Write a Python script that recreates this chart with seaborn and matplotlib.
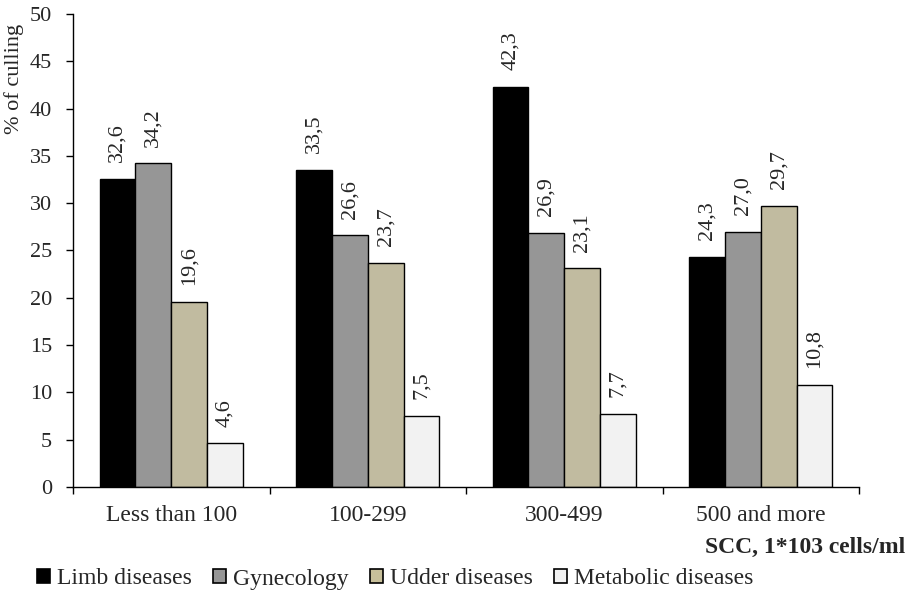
import numpy as np
import pandas as pd
import matplotlib.pyplot as plt
import seaborn as sns

sns.set_style("ticks")
plt.rcParams['font.family'] = ['Liberation Serif', 'DejaVu Serif']

categories = ['Less than 100', '100-299', '300-499', '500 and more']
series = ['Limb diseases', 'Gynecology', 'Udder diseases', 'Metabolic diseases']
limb = [32.6, 33.5, 42.3, 24.3]
gyne = [34.2, 26.6, 26.9, 27.0]
udder = [19.6, 23.7, 23.1, 29.7]
metab = [4.6, 7.5, 7.7, 10.8]
colors = ['#000000', '#969696', '#c7bf9a', '#f2f2f2']

values = [limb, gyne, udder, metab]
df = pd.DataFrame({
    'group': np.repeat([categories], len(series), axis=0).ravel(),
    'disease': np.repeat(series, len(categories)),
    'pct': np.concatenate(values),
})

fig = plt.figure(figsize=(9.07, 5.9), dpi=100)
# axes box in pixels: x 73..859, y 14..487
ax = fig.add_axes([73 / 907, 1 - 487 / 590, 786 / 907, 473 / 590])

sns.barplot(data=df, x='group', y='pct', hue='disease', order=categories,
            hue_order=series, palette=colors, width=0.73, gap=0,
            edgecolor='black', linewidth=1.0, legend=False, ax=ax)

for cont, vals in zip(ax.containers, values):
    ax.bar_label(cont, labels=[f"{v:.1f}".replace('.', ',') for v in vals],
                 rotation=90, padding=12, fontsize=16)

ax.set_ylim(0, 50)
ax.set_yticks(range(0, 51, 5))
ax.set_xlim(-0.5, 3.5)
ax.tick_params(axis='y', labelsize=16, length=5, width=1, color='black', pad=10)
ax.tick_params(axis='x', which='major', labelsize=17, length=0, pad=13)
ax.set_xticks(np.arange(-0.5, 4.0, 1.0), minor=True)
ax.tick_params(axis='x', which='minor', length=5, width=1, color='black')
sns.despine(ax=ax)
for s in ['left', 'bottom']:
    ax.spines[s].set_color('black')
    ax.spines[s].set_linewidth(1)

ax.set_xlabel('')
ax.set_ylabel('% of culling', fontsize=16)
ax.yaxis.set_label_coords(-0.062, 0.862)

fig.text(905 / 907, 1 - 547 / 590, 'SCC, 1*103 cells/ml', fontsize=17,
         fontweight='bold', ha='right', va='center')

handles = [plt.Rectangle((0, 0), 1, 1, facecolor=c, edgecolor='black', linewidth=1.2)
           for c in colors]
fig.legend(handles, series, loc='center left', bbox_to_anchor=(37 / 907, 1 - 579 / 590),
           ncol=4, frameon=False, fontsize=17, handlelength=0.55, handleheight=0.55,
           handletextpad=0.3, columnspacing=0.9, borderpad=0, borderaxespad=0)

fig.savefig('out.png', dpi=100)
